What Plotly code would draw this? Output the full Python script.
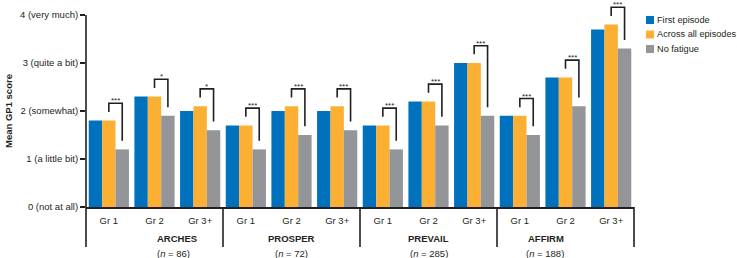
import plotly.graph_objects as go

# ---------------- data ----------------
studies = ["ARCHES", "PROSPER", "PREVAIL", "AFFIRM"]
study_n = [86, 72, 285, 188]
grades = ["Gr 1", "Gr 2", "Gr 3+"]
series_names = ["First episode", "Across all episodes", "No fatigue"]
first_episode = [1.8, 2.3, 2.0, 1.7, 2.0, 2.0, 1.7, 2.2, 3.0, 1.9, 2.7, 3.7]
across_all = [1.8, 2.3, 2.1, 1.7, 2.1, 2.1, 1.7, 2.2, 3.0, 1.9, 2.7, 3.8]
no_fatigue = [1.2, 1.9, 1.6, 1.2, 1.5, 1.6, 1.2, 1.7, 1.9, 1.5, 2.1, 3.3]
significance = ["***", "*", "*", "***", "***", "***", "***", "***", "***", "***", "***", "***"]
y_tick_vals = [0, 1, 2, 3, 4]
y_tick_text = ["0 (not at all)", "1 (a little bit)", "2 (somewhat)", "3 (quite a bit)", "4 (very much)"]

# ---------------- style ----------------
colors = ["#0071BC", "#FBB034", "#939598"]
ink = "#231F20"
font_family = "Arial, Liberation Sans, sans-serif"
bargap = 0.12
y_top = 4.3125
plot_h = 207

n_cat = len(studies) * len(grades)
xs = list(range(n_cat))
cat_labels = grades * len(studies)
series = [first_episode, across_all, no_fatigue]

fig = go.Figure()
for name, vals, col in zip(series_names, series, colors):
    fig.add_trace(go.Bar(x=xs, y=vals, name=name, marker=dict(color=col, line=dict(width=0)),
                         showlegend=False, hoverinfo="skip"))

shapes = []
annotations = []

# significance brackets (orange bar center -> gray bar center)
w = (1 - bargap) / 3
for i in xs:
    top = max(first_episode[i], across_all[i], no_fatigue[i]) + 0.36
    yl = across_all[i] + 0.18
    yr = no_fatigue[i] + 0.18
    path = f"M {i},{yl} L {i},{top} L {i + w},{top} L {i + w},{yr}"
    shapes.append(dict(type="path", path=path, xref="x", yref="y",
                       line=dict(color=ink, width=1.6)))
    annotations.append(dict(x=i + w / 2, y=top, xref="x", yref="y", text=significance[i],
                            showarrow=False, yanchor="bottom", yshift=-4,
                            font=dict(size=8, color=ink, family=font_family)))

# y axis line (0 to 4 only)
shapes.append(dict(type="line", xref="paper", yref="paper", x0=0, x1=0, y0=0, y1=4 / y_top,
                   line=dict(color=ink, width=1.6)))

# group dividers below x-axis
n_st = len(studies)
for k in range(n_st + 1):
    shapes.append(dict(type="line", xref="paper", yref="paper", x0=k / n_st, x1=k / n_st,
                       y0=0, y1=-40 / plot_h, line=dict(color=ink, width=1.6)))

for k, (s, n) in enumerate(zip(studies, study_n)):
    cx = (k + 0.5) / n_st
    annotations.append(dict(x=cx, y=0, xref="paper", yref="paper", text=f"<b>{s}</b>",
                            showarrow=False, yanchor="middle", yshift=-31,
                            font=dict(size=9.5, color=ink, family=font_family)))
    annotations.append(dict(x=cx, y=0, xref="paper", yref="paper",
                            text=f"(<i>n</i> = {n})",
                            showarrow=False, yanchor="middle", yshift=-46,
                            font=dict(size=9.5, color=ink, family=font_family)))

# y axis title
annotations.append(dict(x=0, y=2, xref="paper", yref="y", text="<b>Mean GP1 score</b>",
                        textangle=-90, showarrow=False, xanchor="center", xshift=-78,
                        font=dict(size=9.5, color=ink, family=font_family)))

# manual legend
leg_x0 = 646
leg_ys = [20, 34.5, 49]
plot_w = 548
for name, col, ly in zip(series_names, colors, leg_ys):
    px0 = (leg_x0 - 86) / plot_w
    px1 = (leg_x0 + 8 - 86) / plot_w
    py0 = (plot_h - (ly + 4)) / plot_h
    py1 = (plot_h - (ly - 4)) / plot_h
    shapes.append(dict(type="rect", xref="paper", yref="paper", x0=px0, x1=px1, y0=py0, y1=py1,
                       fillcolor=col, line=dict(width=0)))
    annotations.append(dict(x=(leg_x0 + 9 - 86) / plot_w, y=(plot_h - ly) / plot_h,
                            xref="paper", yref="paper", text=name, showarrow=False,
                            xanchor="left", yanchor="middle",
                            font=dict(size=9.2, color=ink, family=font_family)))

fig.update_layout(
    width=737, height=258,
    margin=dict(l=86, r=103, t=0, b=51),
    barmode="group", bargap=bargap, bargroupgap=0,
    plot_bgcolor="white", paper_bgcolor="white",
    font=dict(family=font_family, size=9.5, color=ink),
    shapes=shapes, annotations=annotations,
    hovermode=False,
    xaxis=dict(range=[-0.5, n_cat - 0.5], tickvals=xs, ticktext=cat_labels, ticks="",
               ticklabelstandoff=4,
               showline=True, linecolor=ink, linewidth=1.6, showgrid=False, zeroline=False,
               tickfont=dict(size=9.5, color=ink)),
    yaxis=dict(range=[0, y_top], tickvals=y_tick_vals, ticktext=y_tick_text,
               ticks="outside", ticklen=5, tickwidth=1.6, tickcolor=ink,
               showline=False, showgrid=False, zeroline=False,
               tickfont=dict(size=9.5, color=ink)),
)

fig.write_html("out.html", config={"displayModeBar": False},
               post_script="document.body.style.margin='0px';")
